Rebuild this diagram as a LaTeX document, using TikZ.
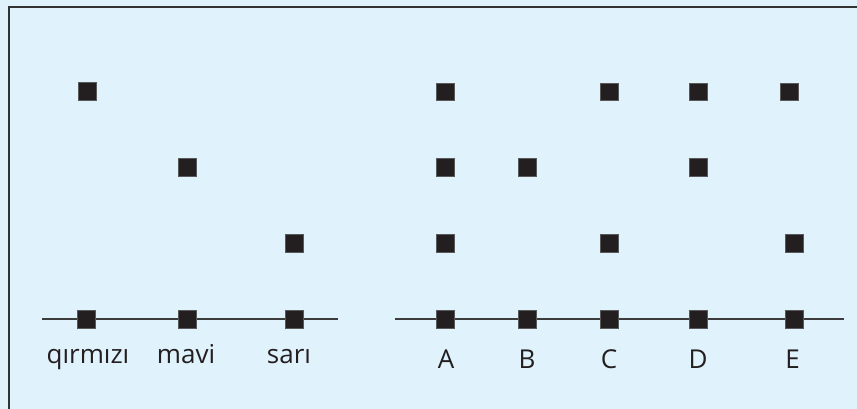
\documentclass[tikz,border=0pt]{standalone}
\usepackage{fontspec}
\setmainfont{Open Sans}
\definecolor{bgblue}{HTML}{E0F2FC}
\definecolor{sqfill}{HTML}{231F20}
\definecolor{linegray}{HTML}{3C3C3C}
\definecolor{txt}{HTML}{231F20}
\begin{document}
\begin{tikzpicture}[x=1pt,y=-1pt,
  sq/.style={draw=gray!70!black,line width=0.4pt,fill=sqfill,minimum size=17.5pt,inner sep=0pt},
  lbl/.style={anchor=base,font=\fontsize{26}{30}\selectfont,text=txt,inner sep=0pt},
  axis/.style={draw=linegray,line width=1.2pt}]
\fill[bgblue] (0,0) rectangle (857,409);
\useasboundingbox (0,0) rectangle (857,409);
\draw[draw=black!80,line width=1.5pt] (9,420) -- (9,7) -- (870,7);
% left axis
\coordinate (l0) at (42,319);
\coordinate (l1) at (338,319);
\draw[axis] (l0) -- (l1);
% right axis
\coordinate (r0) at (395,319);
\coordinate (r1) at (844,319);
\draw[axis] (r0) -- (r1);
% left squares
\node[sq] (q0) at (86,319) {};
\node[sq] (m0) at (187,319) {};
\node[sq] (s0) at (294,319) {};
\node[sq] (q1) at (87,91) {};
\node[sq] (m1) at (187,167) {};
\node[sq] (s1) at (294,243) {};
% right squares bottom
\node[sq] (a0) at (445,319) {};
\node[sq] (b0) at (527,319) {};
\node[sq] (c0) at (609,319) {};
\node[sq] (d0) at (698,319) {};
\node[sq] (e0) at (794,319) {};
% A column
\node[sq] (a1) at (445,91.5) {};
\node[sq] (a2) at (445,167) {};
\node[sq] (a3) at (445,243) {};
% B
\node[sq] (b2) at (527,167) {};
% C
\node[sq] (c1) at (609,91.5) {};
\node[sq] (c3) at (609,243) {};
% D
\node[sq] (d1) at (698,91.5) {};
\node[sq] (d2) at (698,167) {};
% E
\node[sq] (e1) at (789,91.5) {};
\node[sq] (e3) at (794,243) {};
% labels
\node[lbl] (tq) at (88,363.5) {qırmızı};
\node[lbl] (tm) at (186,363.5) {mavi};
\node[lbl] (ts) at (289,363.5) {sarı};
\node[lbl] (tA) at (446,368) {A};
\node[lbl] (tB) at (527,368) {B};
\node[lbl] (tC) at (609,368) {C};
\node[lbl] (tD) at (698,368) {D};
\node[lbl] (tE) at (792.5,368) {E};
\end{tikzpicture}
\end{document}
